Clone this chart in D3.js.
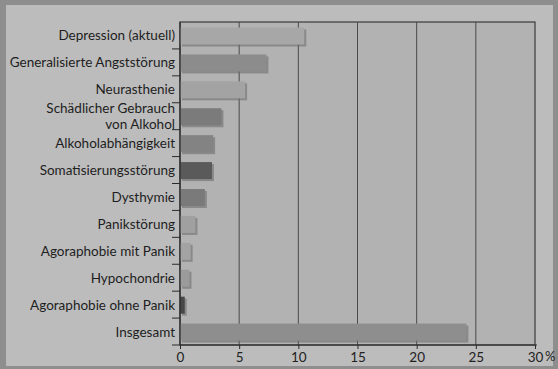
<!DOCTYPE html>
<html>
<head>
<meta charset="utf-8">
<script src="https://cdn.jsdelivr.net/npm/d3@7"></script>
<style>
  body { margin: 0; background: #8e8e8e; }
  svg { display: block; }
</style>
</head>
<body>
<svg id="chart" width="558" height="369"></svg>
<script>
// Diagnoses (12-month prevalence, %)
const categories = [
  "Depression (aktuell)",
  "Generalisierte Angststörung",
  "Neurasthenie",
  "Schädlicher Gebrauch|von Alkohol",
  "Alkoholabhängigkeit",
  "Somatisierungsstörung",
  "Dysthymie",
  "Panikstörung",
  "Agoraphobie mit Panik",
  "Hypochondrie",
  "Agoraphobie ohne Panik",
  "Insgesamt"
];
const values = [10.5, 7.3, 5.5, 3.5, 2.8, 2.7, 2.1, 1.3, 0.9, 0.8, 0.4, 24.2];
const barColors = ["#a7a7a7", "#8c8c8c", "#a3a3a3", "#7b7b7b", "#838383", "#5a5a5a",
                   "#7a7a7a", "#a0a0a0", "#a3a3a3", "#9b9b9b", "#474747", "#8e8e8e"];
const xTicks = [0, 5, 10, 15, 20, 25, 30];

const svg = d3.select("#chart");
const margin = {top: 22, right: 23, bottom: 24, left: 180};
const width = 558, height = 369;
const font = "Lato, 'Open Sans', sans-serif";

// light panel the chart is printed on
svg.append("rect")
    .attr("x", 6).attr("y", 5)
    .attr("width", 547).attr("height", 361)
    .attr("fill", "#bcbcbc");

const x = d3.scaleLinear().domain([0, 30]).range([margin.left, width - margin.right]);
const y = d3.scaleBand().domain(categories)
    .range([margin.top, height - margin.bottom]);

// plot area
svg.append("rect")
    .attr("x", x(0)).attr("y", margin.top)
    .attr("width", x(30) - x(0)).attr("height", y.range()[1] - margin.top)
    .attr("fill", "#b2b2b2")
    .attr("stroke", "#3a3a3a").attr("stroke-width", 1.2);

// vertical grid lines
svg.selectAll(".grid")
    .data(xTicks.slice(1, -1))
    .join("line")
    .attr("class", "grid")
    .attr("x1", d => x(d)).attr("x2", d => x(d))
    .attr("y1", margin.top).attr("y2", y.range()[1])
    .attr("stroke", "#4a4a4a").attr("stroke-width", 1);

const barH = 17, barOff = 5.5;

// shadows
svg.selectAll(".shadow")
    .data(values)
    .join("rect")
    .attr("class", "shadow")
    .attr("x", x(0) + 2)
    .attr("y", (d, i) => y(categories[i]) + barOff + 2)
    .attr("width", d => x(d) - x(0))
    .attr("height", barH)
    .attr("fill", "#6e6e6e")
    .attr("opacity", 0.6);

// bars
svg.selectAll(".bar")
    .data(values)
    .join("rect")
    .attr("class", "bar")
    .attr("x", x(0))
    .attr("y", (d, i) => y(categories[i]) + barOff)
    .attr("width", d => x(d) - x(0))
    .attr("height", barH)
    .attr("fill", (d, i) => barColors[i]);

// x axis
const xAxis = svg.append("g")
    .attr("transform", `translate(0,${y.range()[1]})`)
    .call(d3.axisBottom(x).tickValues(xTicks).tickSize(4).tickSizeOuter(0));
xAxis.select(".domain").remove();
xAxis.append("line")
    .attr("x1", x(0) - 8).attr("x2", x(30) + 2)
    .attr("stroke", "#2a2a2a").attr("stroke-width", 1.2);
xAxis.selectAll(".tick line").attr("stroke", "#2a2a2a");
xAxis.selectAll(".tick text")
    .attr("y", 7)
    .attr("fill", "#222")
    .style("font-family", font)
    .style("font-size", "13.5px");
xAxis.append("text")
    .attr("x", x(30) + 10).attr("y", 7)
    .attr("dy", "0.71em")
    .attr("fill", "#222")
    .style("font-family", font)
    .style("font-size", "13px")
    .attr("text-anchor", "start")
    .text("%");

// y axis line and ticks at band boundaries
svg.append("line")
    .attr("x1", x(0)).attr("x2", x(0))
    .attr("y1", margin.top).attr("y2", y.range()[1])
    .attr("stroke", "#2a2a2a").attr("stroke-width", 1.2);
svg.selectAll(".ytick")
    .data(categories.slice(1))
    .join("line")
    .attr("class", "ytick")
    .attr("x1", x(0) - 8).attr("x2", x(0))
    .attr("y1", d => y(d)).attr("y2", d => y(d))
    .attr("stroke", "#2a2a2a");

// category labels
svg.selectAll(".label")
    .data(categories)
    .join("text")
    .attr("class", "label")
    .attr("text-anchor", "end")
    .attr("fill", "#1e1e1e")
    .style("font-family", font)
    .style("font-size", "13.5px")
    .each(function(d) {
        const parts = d.split("|");
        const cy = y(d) + y.bandwidth() / 2;
        parts.forEach((p, k) => {
            d3.select(this).append("tspan")
                .attr("x", x(0) - 5)
                .attr("y", cy + 5 + (k - (parts.length - 1) / 2) * 15.5)
                .text(p);
        });
    });
</script>
</body>
</html>
